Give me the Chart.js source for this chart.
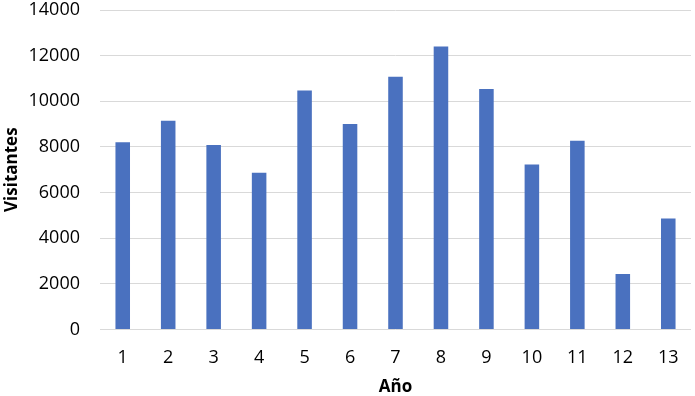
<!DOCTYPE html>
<html>
<head>
<meta charset="utf-8">
<script src="https://cdn.jsdelivr.net/npm/chart.js@4/dist/chart.umd.min.js"></script>
<style>
  html, body { margin: 0; padding: 0; background: #fff; }
  #wrap { width: 695px; height: 396px; }
</style>
</head>
<body>
<div id="wrap"><canvas id="myChart" width="695" height="396"></canvas></div>
<script>
/* Datos */

const years = ['1', '2', '3', '4', '5', '6', '7', '8', '9', '10', '11', '12', '13']
const visitors = [8200, 9150, 8080, 6870, 10470, 9000, 11070, 12400, 10540, 7230, 8270, 2430, 4860]
const yTicks = [0, 2000, 4000, 6000, 8000, 10000, 12000, 14000]

const font = "'Open Sans', 'Liberation Sans', sans-serif"
const ctx = document.getElementById('myChart');

new Chart(ctx, {
    type: 'bar',
    data: {
        labels: years,
        datasets: [{
            label: 'Visitantes',
            data: visitors,
            backgroundColor: '#4A71BF',
            borderColor: '#4A71BF',
            borderWidth: 0,
            categoryPercentage: 1,
            barPercentage: 0.32,
        }]
    },
    options: {
        responsive: false,
        animation: false,
        layout: {
            padding: {left: 2, right: 4, top: 0, bottom: 0}
        },
        scales: {
            y: {
                min: 0,
                max: 14000,
                afterBuildTicks: (axis) => { axis.ticks = yTicks.map((v) => ({value: v})) },
                afterFit: (axis) => {
                    // tick padding is also added above the top label, drop it
                    axis.width = 98
                    axis.paddingTop = 10
                    axis.paddingBottom = 10
                },
                grid: {color: '#d9d9d9', lineWidth: 1, drawTicks: false},
                border: {display: false},
                ticks: {
                    color: '#000',
                    padding: 20,
                    font: {family: font, size: 18},
                    callback: (v) => String(v)
                },
                title: {
                    display: true,
                    text: 'Visitantes',
                    color: '#000',
                    padding: {top: 0, bottom: 6},
                    font: {family: font, size: 17, weight: 'bold'}
                }
            },
            x: {
                grid: {display: false},
                border: {display: false},
                ticks: {
                    color: '#000',
                    padding: 10,
                    font: {family: font, size: 18}
                },
                title: {
                    display: true,
                    text: 'Año',
                    color: '#000',
                    padding: {top: 0, bottom: 0},
                    font: {family: font, size: 17, weight: 'bold', lineHeight: 1}
                }
            },
        },
        plugins: {
            legend: {display: false},
            tooltip: {enabled: false}
        }
    }
});
</script>
</body>
</html>
